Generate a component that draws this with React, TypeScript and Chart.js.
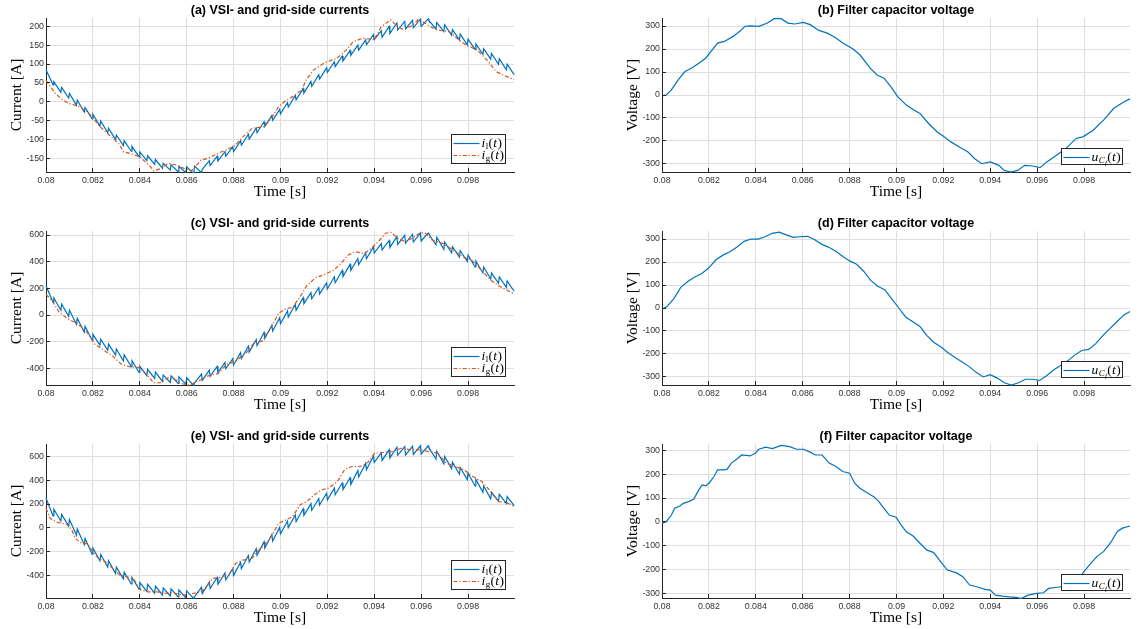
import React, { useEffect, useRef } from "react";
import { Chart, registerables } from "chart.js";

Chart.register(...registerables);

// ---------------- axis definitions ----------------
const X_MIN = 0.08;
const X_MAX = 0.09996;
const xTicks = [0.08, 0.082, 0.084, 0.086, 0.088, 0.09, 0.092, 0.094, 0.096, 0.098];
const xTickLabels = ["0.08", "0.082", "0.084", "0.086", "0.088", "0.09", "0.092", "0.094", "0.096", "0.098"];
const yTicksA = [-150, -100, -50, 0, 50, 100, 150, 200];
const yTicksCE = [-400, -200, 0, 200, 400, 600];
const yTicksV = [-300, -200, -100, 0, 100, 200, 300];

// ---------------- VSI-side current ripple (one start/end value per switching tooth) ----------------
const RIPPLE_T0 = 0.08;
const RIPPLE_PERIOD = 1 / 3000;
const RAMP_SHARE = 0.9;

const ilA_start = [85, 53, 38, 22, 4, -15, -33, -51, -70, -88,
  -103, -118, -133, -143, -153, -163, -167, -171, -172, -170,
  -179, -169, -157, -144, -132, -115, -99, -82, -65, -49,
  -32, -14, 5, 23, 41, 60, 78, 93, 108, 123,
  137, 151, 165, 171, 181, 190, 193, 196, 200, 215,
  210, 204, 191, 179, 166, 153, 141, 128, 114, 100];
const ilA_end = [45, 25, 10, -9, -27, -45, -64, -82, -100, -116,
  -131, -146, -156, -166, -176, -181, -185, -188, -190, -188,
  -156, -144, -132, -119, -103, -86, -70, -53, -36, -20,
  -2, 17, 35, 54, 72, 90, 106, 121, 136, 150,
  164, 178, 188, 200, 209, 213, 216, 219, 220, 193,
  186, 176, 164, 151, 139, 126, 113, 99, 85, 72];

const ilC_start = [220, 128, 82, 35, -25, -85, -145, -182, -218, -255,
  -298, -342, -385, -407, -428, -450, -457, -463, -470, -510,
  -490, -460, -432, -403, -375, -327, -278, -230, -175, -120,
  -65, -15, 35, 85, 122, 158, 195, 242, 288, 335,
  378, 422, 465, 488, 507, 530, 538, 547, 555, 605,
  583, 548, 513, 482, 450, 405, 360, 315, 285, 255];
const ilC_end = [95, 36, -10, -69, -129, -189, -228, -265, -301, -344,
  -387, -431, -455, -476, -498, -506, -513, -519, -530, -443,
  -413, -385, -356, -328, -282, -233, -185, -131, -76, -21,
  30, 80, 130, 168, 205, 241, 287, 334, 380, 424,
  467, 511, 536, 559, 588, 598, 606, 614, 615, 527,
  493, 466, 435, 403, 360, 315, 270, 238, 208, 178];

const ilE_start = [250, 157, 113, 70, -10, -90, -170, -223, -277, -330,
  -373, -417, -460, -475, -490, -505, -513, -522, -530, -580,
  -553, -510, -473, -437, -400, -343, -287, -230, -170, -110,
  -50, 2, 53, 105, 148, 192, 235, 278, 322, 365,
  427, 488, 550, 567, 588, 610, 613, 617, 620, 673,
  645, 600, 553, 507, 460, 407, 353, 300, 282, 263];
const ilE_end = [101, 58, 14, -62, -142, -222, -278, -331, -385, -429,
  -472, -516, -534, -549, -564, -573, -581, -589, -595, -498,
  -454, -417, -380, -344, -289, -232, -176, -116, -56, 4,
  57, 108, 160, 204, 247, 291, 334, 377, 421, 481,
  542, 604, 630, 656, 678, 683, 686, 690, 690, 579,
  539, 498, 451, 405, 352, 299, 245, 224, 205, 187];

// ---------------- grid-side currents ----------------
const igA_t = [0.08, 0.0804, 0.0807, 0.081, 0.08146, 0.0819, 0.0823, 0.0827, 0.0831, 0.0833,
  0.0837, 0.084, 0.0844, 0.0846, 0.0849, 0.0852, 0.0856, 0.0859, 0.0862, 0.0866,
  0.0869, 0.0874, 0.088, 0.0884, 0.0888, 0.0893, 0.0896, 0.0899, 0.0902, 0.0905,
  0.0909, 0.0911, 0.0914, 0.0919, 0.0924, 0.0928, 0.0931, 0.0935, 0.094, 0.0943,
  0.0947, 0.095, 0.0952, 0.0956, 0.0959, 0.0964, 0.0967, 0.0972, 0.0977, 0.098,
  0.0984, 0.0988, 0.0992, 0.0996, 0.09996];
const igA_v = [57, 22, 5, -5, -13, -35, -66, -88, -110, -132,
  -139, -146, -168, -183, -177, -163, -168, -177, -183, -155,
  -150, -135, -119, -93, -70, -66, -45, -15, 2, 13,
  31, 58, 84, 104, 115, 137, 159, 168, 165, 199,
  217, 199, 192, 201, 219, 199, 190, 186, 159, 148,
  137, 111, 80, 68, 59];

const igC_t = [0.08, 0.08026, 0.08056, 0.08094, 0.08132, 0.0817, 0.08208, 0.08246, 0.08284, 0.08322,
  0.0836, 0.08398, 0.08429, 0.08459, 0.0849, 0.0852, 0.0855, 0.08581, 0.08611, 0.08649,
  0.08687, 0.08733, 0.08771, 0.08809, 0.08855, 0.08885, 0.08923, 0.08961, 0.08992, 0.09022,
  0.09052, 0.09083, 0.09113, 0.09151, 0.09189, 0.09227, 0.09258, 0.09288, 0.09319, 0.09357,
  0.09387, 0.09417, 0.09448, 0.09471, 0.09501, 0.09532, 0.09562, 0.09593, 0.09615, 0.09646,
  0.09691, 0.09737, 0.09783, 0.09813, 0.09851, 0.09897, 0.09935, 0.09996];
const igC_v = [154, 109, 21, -30, -62, -118, -219, -264, -307, -370,
  -390, -395, -445, -508, -508, -471, -483, -516, -526, -496,
  -458, -440, -370, -345, -282, -214, -194, -93, 13, 46,
  58, 134, 222, 280, 305, 336, 386, 449, 474, 461,
  499, 550, 613, 620, 575, 550, 575, 613, 618, 562,
  537, 487, 431, 416, 348, 260, 215, 159];

const igE_t = [0.08, 0.08018, 0.08041, 0.08064, 0.08087, 0.0811, 0.08125, 0.08148, 0.08178, 0.082,
  0.08224, 0.08254, 0.08284, 0.08315, 0.08345, 0.08376, 0.08406, 0.08437, 0.08475, 0.08505,
  0.08535, 0.08566, 0.08596, 0.08627, 0.08657, 0.0868, 0.0871, 0.08741, 0.08779, 0.08809,
  0.0884, 0.08878, 0.08901, 0.08931, 0.08961, 0.08992, 0.09022, 0.09052, 0.09083, 0.09113,
  0.09144, 0.09174, 0.09204, 0.09243, 0.09273, 0.09304, 0.09342, 0.09372, 0.09402, 0.0944,
  0.09478, 0.09516, 0.09555, 0.09593, 0.09631, 0.09669, 0.09707, 0.09745, 0.09783, 0.09821,
  0.09859, 0.09897, 0.09927, 0.09966, 0.09996];
const igE_v = [165, 80, 52, 38, 33, -18, -88, -125, -136, -201,
  -257, -285, -341, -397, -411, -439, -524, -538, -538, -552,
  -546, -557, -566, -552, -538, -510, -425, -417, -397, -299,
  -271, -257, -201, -144, -74, 38, 66, 94, 193, 221,
  277, 319, 333, 389, 488, 516, 516, 549, 628, 634,
  642, 670, 656, 656, 642, 628, 544, 516, 488, 431,
  389, 305, 221, 212, 179];

// ---------------- filter capacitor voltages ----------------
const uB_t = [0.08, 0.08018, 0.0804, 0.08069, 0.08098, 0.08127, 0.08157, 0.08186, 0.08215, 0.08237,
  0.08266, 0.08303, 0.08332, 0.08354, 0.08376, 0.08413, 0.0845, 0.08478, 0.08508, 0.08537,
  0.08566, 0.08603, 0.08632, 0.08669, 0.08705, 0.08742, 0.08771, 0.08815, 0.08844, 0.08888,
  0.08917, 0.08947, 0.08976, 0.09005, 0.09042, 0.09071, 0.091, 0.09137, 0.09173, 0.09203,
  0.09232, 0.09268, 0.09305, 0.09334, 0.09364, 0.094, 0.09437, 0.09459, 0.09488, 0.09517,
  0.09547, 0.0958, 0.09612, 0.09641, 0.09678, 0.09722, 0.09766, 0.09795, 0.09839, 0.09883,
  0.09927, 0.09971, 0.09996];
const uB_v = [-4, 0, 22, 66, 102, 117, 138, 160, 197, 226,
  233, 255, 277, 299, 301, 299, 313, 332, 332, 313,
  309, 316, 306, 281, 269, 248, 226, 200, 175, 117,
  87, 73, 36, -7, -44, -63, -80, -124, -160, -182,
  -204, -226, -248, -277, -299, -291, -306, -328, -335, -328,
  -306, -309, -316, -291, -265, -233, -189, -182, -153, -109,
  -58, -29, -17];

const uD_t = [0.08, 0.0802, 0.0805, 0.0808, 0.0811, 0.0814, 0.0817, 0.082, 0.0823, 0.0826,
  0.0829, 0.0832, 0.0835, 0.0838, 0.0841, 0.0844, 0.0847, 0.085, 0.0853, 0.0856,
  0.0859, 0.0862, 0.0865, 0.0868, 0.0871, 0.0874, 0.0877, 0.088, 0.0883, 0.0886,
  0.0889, 0.0892, 0.0895, 0.0898, 0.0901, 0.0904, 0.0907, 0.091, 0.0913, 0.0916,
  0.0919, 0.0922, 0.0925, 0.0928, 0.0931, 0.0934, 0.0937, 0.094, 0.0943, 0.0946,
  0.0949, 0.0952, 0.0955, 0.0958, 0.0961, 0.0964, 0.0967, 0.097, 0.0973, 0.0976,
  0.0979, 0.0982, 0.0985, 0.0988, 0.0991, 0.0994, 0.0997, 0.09996];
const uD_v = [-5, 5, 40, 90, 115, 135, 150, 175, 210, 230,
  245, 265, 290, 300, 300, 310, 325, 330, 318, 307,
  310, 312, 298, 278, 265, 248, 225, 205, 190, 160,
  120, 95, 80, 40, 0, -40, -60, -80, -120, -150,
  -170, -195, -215, -235, -255, -280, -300, -290, -305, -325,
  -335, -325, -310, -310, -315, -295, -270, -250, -230, -205,
  -185, -180, -155, -120, -90, -60, -30, -15];

const uF_t = [0.08, 0.08018, 0.0804, 0.08054, 0.08076, 0.08091, 0.08113, 0.08135, 0.08157, 0.08171,
  0.08186, 0.082, 0.08222, 0.08237, 0.08259, 0.08277, 0.08296, 0.08318, 0.0834, 0.08376,
  0.08398, 0.08413, 0.08442, 0.08471, 0.08508, 0.08544, 0.08574, 0.08603, 0.08632, 0.08654,
  0.08683, 0.08713, 0.08742, 0.08771, 0.088, 0.08822, 0.08844, 0.08873, 0.08903, 0.08925,
  0.08947, 0.08969, 0.08998, 0.0902, 0.09042, 0.09071, 0.091, 0.09129, 0.09159, 0.09188,
  0.09217, 0.09254, 0.09283, 0.09312, 0.09342, 0.09378, 0.094, 0.09422, 0.09452, 0.09481,
  0.0951, 0.09532, 0.09561, 0.09598, 0.09627, 0.09649, 0.09686, 0.09722, 0.09759, 0.09788,
  0.09817, 0.09854, 0.09883, 0.09912, 0.09942, 0.09964, 0.09996];
const uF_v = [-6, 1, 29, 57, 67, 78, 85, 95, 134, 155,
  151, 162, 190, 218, 218, 220, 246, 262, 280, 276,
  287, 304, 313, 307, 320, 315, 304, 304, 292, 280,
  280, 246, 232, 211, 204, 162, 141, 123, 106, 85,
  57, 29, 20, -13, -41, -59, -89, -117, -128, -166,
  -201, -212, -229, -264, -271, -282, -285, -306, -310, -313,
  -315, -320, -306, -299, -296, -278, -273, -268, -243, -222,
  -187, -145, -124, -89, -40, -26, -17];

// ---------------- styling ----------------
const BLUE = "#0072BD";
const ORANGE = "#D95319";
const AXIS = "#262626";
const GRID = "#dedede";
const TICK_FONT = { family: '"Liberation Sans", Arial, sans-serif', size: 8.8 };
const LABEL_FONT = { family: '"Liberation Serif", "Times New Roman", serif', size: 15.5 };

type Piece = { text: string; italic: boolean; level: 0 | 1 | 2 };
const LBL_IL: Piece[] = [
  { text: "i", italic: true, level: 0 }, { text: "l", italic: false, level: 1 },
  { text: "(", italic: false, level: 0 }, { text: "t", italic: true, level: 0 }, { text: ")", italic: false, level: 0 },
];
const LBL_IG: Piece[] = [
  { text: "i", italic: true, level: 0 }, { text: "g", italic: false, level: 1 },
  { text: "(", italic: false, level: 0 }, { text: "t", italic: true, level: 0 }, { text: ")", italic: false, level: 0 },
];
const LBL_UC: Piece[] = [
  { text: "u", italic: true, level: 0 }, { text: "C", italic: true, level: 1 }, { text: "f", italic: true, level: 2 },
  { text: "(", italic: false, level: 0 }, { text: "t", italic: true, level: 0 }, { text: ")", italic: false, level: 0 },
];

type Pt = { x: number; y: number };
function zip(ts: number[], vs: number[]): Pt[] {
  const n = Math.min(ts.length, vs.length);
  const out: Pt[] = [];
  for (let i = 0; i < n; i++) out.push({ x: ts[i], y: vs[i] });
  return out;
}
function sawPoints(starts: number[], ends: number[]): Pt[] {
  const out: Pt[] = [];
  starts.forEach((s, k) => {
    const t = RIPPLE_T0 + k * RIPPLE_PERIOD;
    out.push({ x: t, y: s });
    out.push({ x: t + RAMP_SHARE * RIPPLE_PERIOD, y: ends[k] });
  });
  return out;
}

type Series = { points: Pt[]; color: string; dash: number[]; label: Piece[]; order: number };
type PanelCfg = {
  title: string; yLabel: string; yMin: number; yMax: number; yTicks: number[];
  series: Series[]; legendW: number; legendH: number;
};

const currentSeries = (il: Pt[], ig: Pt[]): Series[] => [
  { points: il, color: BLUE, dash: [], label: LBL_IL, order: 1 },
  { points: ig, color: ORANGE, dash: [4, 2, 1.2, 2], label: LBL_IG, order: 0 },
];
const voltageSeries = (u: Pt[]): Series[] => [
  { points: u, color: BLUE, dash: [], label: LBL_UC, order: 0 },
];

const PANELS: { cfg: PanelCfg; left: number; top: number }[] = [
  { left: 0, top: 0, cfg: { title: "(a) VSI- and grid-side currents", yLabel: "Current [A]", yMin: -186, yMax: 222, yTicks: yTicksA,
    series: currentSeries(sawPoints(ilA_start, ilA_end), zip(igA_t, igA_v)), legendW: 54, legendH: 29 } },
  { left: 616, top: 0, cfg: { title: "(b) Filter capacitor voltage", yLabel: "Voltage [V]", yMin: -335, yMax: 335, yTicks: yTicksV,
    series: voltageSeries(zip(uB_t, uB_v)), legendW: 60.7, legendH: 15.6 } },
  { left: 0, top: 213, cfg: { title: "(c) VSI- and grid-side currents", yLabel: "Current [A]", yMin: -525, yMax: 630, yTicks: yTicksCE,
    series: currentSeries(sawPoints(ilC_start, ilC_end), zip(igC_t, igC_v)), legendW: 54, legendH: 29 } },
  { left: 616, top: 213, cfg: { title: "(d) Filter capacitor voltage", yLabel: "Voltage [V]", yMin: -335, yMax: 335, yTicks: yTicksV,
    series: voltageSeries(zip(uD_t, uD_v)), legendW: 60.7, legendH: 15.6 } },
  { left: 0, top: 426, cfg: { title: "(e) VSI- and grid-side currents", yLabel: "Current [A]", yMin: -590, yMax: 705, yTicks: yTicksCE,
    series: currentSeries(sawPoints(ilE_start, ilE_end), zip(igE_t, igE_v)), legendW: 54, legendH: 29 } },
  { left: 616, top: 426, cfg: { title: "(f) Filter capacitor voltage", yLabel: "Voltage [V]", yMin: -318, yMax: 326, yTicks: yTicksV,
    series: voltageSeries(zip(uF_t, uF_v)), legendW: 60.7, legendH: 15.6 } },
];

const CANVAS_W = 522;
const CANVAS_H = 203;

function drawMath(ctx: CanvasRenderingContext2D, pieces: Piece[], x: number, y: number) {
  let cx = x;
  for (const p of pieces) {
    const size = p.level === 0 ? 13.5 : p.level === 1 ? 9 : 7;
    const dy = p.level === 0 ? 0 : p.level === 1 ? 2.8 : 4.6;
    ctx.font = `${p.italic ? "italic " : ""}${size}px "Liberation Serif", "Times New Roman", serif`;
    ctx.fillText(p.text, cx, y + dy);
    cx += ctx.measureText(p.text).width + (p.level === 0 && p.italic ? 0.6 : 0.2);
  }
}

function decorPlugin(cfg: PanelCfg) {
  return {
    id: "decor",
    afterDraw(chart: any) {
      const { ctx, chartArea: ca, scales } = chart;
      const align = (p: number) => Math.round(p - 0.5) + 0.5;
      ctx.save();
      // inward tick marks
      ctx.strokeStyle = AXIS;
      ctx.lineWidth = 1;
      ctx.beginPath();
      for (const v of xTicks) {
        const px = align(scales.x.getPixelForValue(v));
        ctx.moveTo(px, ca.bottom);
        ctx.lineTo(px, ca.bottom - 4);
      }
      for (const v of cfg.yTicks) {
        const py = align(scales.y.getPixelForValue(v));
        ctx.moveTo(ca.left, py);
        ctx.lineTo(ca.left + 4, py);
      }
      ctx.stroke();
      // title
      ctx.fillStyle = "#000";
      ctx.font = 'bold 12.5px "Liberation Sans", Arial, sans-serif';
      ctx.textAlign = "center";
      ctx.textBaseline = "middle";
      ctx.fillText(cfg.title, (ca.left + ca.right) / 2, ca.top - 7);
      // legend
      const bx = Math.round(ca.right - 8.6 - cfg.legendW) + 0.5;
      const by = Math.round(ca.bottom - 8.7 - cfg.legendH) + 0.5;
      const bw = Math.round(cfg.legendW);
      const bh = Math.round(cfg.legendH);
      ctx.fillStyle = "#fff";
      ctx.fillRect(bx, by, bw, bh);
      ctx.strokeStyle = AXIS;
      ctx.lineWidth = 1;
      ctx.setLineDash([]);
      ctx.strokeRect(bx, by, bw, bh);
      const rowH = 12;
      const firstRow = cfg.series.length > 1 ? by + 8 : by + bh / 2;
      cfg.series.forEach((s, i) => {
        const ry = firstRow + i * rowH;
        ctx.beginPath();
        ctx.strokeStyle = s.color;
        ctx.lineWidth = 1.2;
        ctx.setLineDash(s.dash);
        ctx.moveTo(bx + 2, Math.round(ry) + 0.5);
        ctx.lineTo(bx + 28, Math.round(ry) + 0.5);
        ctx.stroke();
        ctx.setLineDash([]);
        ctx.fillStyle = "#000";
        ctx.textAlign = "left";
        ctx.textBaseline = "alphabetic";
        drawMath(ctx, s.label, bx + 30, ry + 4);
      });
      ctx.restore();
    },
  };
}

function Panel({ cfg, left, top }: { cfg: PanelCfg; left: number; top: number }) {
  const ref = useRef<HTMLCanvasElement | null>(null);
  useEffect(() => {
    if (!ref.current) return;
    const chart = new Chart(ref.current, {
      type: "line",
      data: {
        datasets: cfg.series.map((s) => ({
          data: s.points,
          borderColor: s.color,
          borderWidth: 1.2,
          borderDash: s.dash,
          pointRadius: 0,
          tension: 0,
          fill: false,
          order: s.order,
          clip: 1,
        })),
      },
      options: {
        animation: false,
        responsive: false,
        maintainAspectRatio: false,
        events: [],
        parsing: false,
        layout: { padding: { top: 18, right: 8, left: 0, bottom: 0 } },
        plugins: { legend: { display: false }, tooltip: { enabled: false }, title: { display: false } },
        scales: {
          x: {
            type: "linear",
            min: X_MIN,
            max: X_MAX,
            afterBuildTicks: (s: any) => { s.ticks = xTicks.map((v) => ({ value: v })); },
            afterFit: (s: any) => { s.height = 31; },
            ticks: { callback: (_v: any, i: number) => xTickLabels[i], font: TICK_FONT, color: "#333", padding: 3, maxRotation: 0, autoSkip: false },
            grid: { color: GRID, lineWidth: 1, drawTicks: false },
            border: { display: true, color: AXIS, width: 1 },
            title: { display: true, text: "Time [s]", font: LABEL_FONT, color: "#000", padding: { top: 0, bottom: 1.7 } },
          },
          y: {
            type: "linear",
            min: cfg.yMin,
            max: cfg.yMax,
            afterBuildTicks: (s: any) => { s.ticks = cfg.yTicks.map((v) => ({ value: v })); },
            afterFit: (s: any) => { s.width = 46; },
            ticks: { callback: (v: any) => String(v), font: TICK_FONT, color: "#333", padding: 2, autoSkip: false },
            grid: { color: GRID, lineWidth: 1, drawTicks: false },
            border: { display: true, color: AXIS, width: 1 },
            title: { display: true, text: cfg.yLabel, font: LABEL_FONT, color: "#000", padding: { top: 8, bottom: 0 } },
          },
        },
      } as any,
      plugins: [decorPlugin(cfg)],
    });
    return () => chart.destroy();
  }, [cfg]);
  return (
    <canvas
      ref={ref}
      width={CANVAS_W}
      height={CANVAS_H}
      style={{ position: "absolute", left, top, width: CANVAS_W, height: CANVAS_H }}
    />
  );
}

export default function App() {
  return (
    <div style={{ position: "absolute", left: 0, top: 0, width: 1138, height: 629, background: "#fff", overflow: "hidden" }}>
      {PANELS.map((p, i) => (
        <Panel key={i} cfg={p.cfg} left={p.left} top={p.top} />
      ))}
    </div>
  );
}
